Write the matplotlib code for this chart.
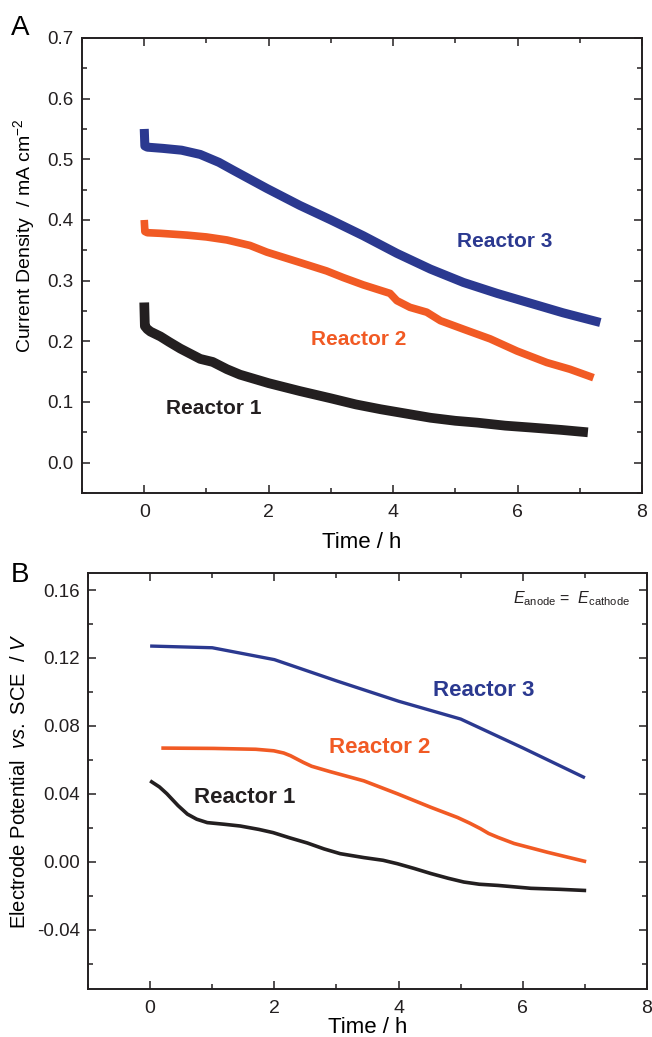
import matplotlib
matplotlib.use("Agg")
import matplotlib.pyplot as plt
from matplotlib.ticker import MultipleLocator, FormatStrFormatter

plt.rcParams['font.family'] = ['Liberation Sans', 'DejaVu Sans']
plt.rcParams['axes.unicode_minus'] = False
plt.rcParams['mathtext.fontset'] = 'custom'
plt.rcParams['mathtext.rm'] = 'Liberation Sans'
plt.rcParams['mathtext.it'] = 'Liberation Sans:italic'

# panel A: current density (mA cm-2) vs time (h)
t_a1 = [0.0, 0.01, 0.05, 0.1, 0.26, 0.4, 0.58, 0.9, 1.1, 1.33, 1.54, 2.0, 2.5, 3.0,
        3.4, 3.8, 4.2, 4.6, 5.0, 5.35, 5.8, 6.2, 6.7, 7.13]
j_a1 = [0.264, 0.225, 0.220, 0.216, 0.208, 0.199, 0.188, 0.171, 0.166, 0.154, 0.145, 0.131,
        0.118, 0.106, 0.096, 0.088, 0.081, 0.074, 0.069, 0.066, 0.061, 0.058, 0.054, 0.050]
t_a2 = [0.0, 0.01, 0.05, 0.26, 0.69, 1.0, 1.33, 1.7, 1.97, 2.5, 2.93, 3.2, 3.52, 3.95,
        4.06, 4.27, 4.54, 4.76, 5.13, 5.56, 5.99, 6.47, 6.84, 7.22]
j_a2 = [0.400, 0.381, 0.379, 0.378, 0.375, 0.372, 0.367, 0.358, 0.347, 0.330, 0.316, 0.305,
        0.293, 0.279, 0.267, 0.256, 0.248, 0.234, 0.220, 0.204, 0.184, 0.165, 0.154, 0.140]
t_a3 = [0.0, 0.01, 0.05, 0.3, 0.6, 0.9, 1.2, 1.43, 1.7, 1.97, 2.5, 3.0, 3.52, 4.06, 4.6, 5.13,
        5.67, 6.2, 6.73, 7.33]
j_a3 = [0.550, 0.522, 0.520, 0.518, 0.515, 0.508, 0.495, 0.482, 0.467, 0.452, 0.424, 0.400,
        0.374, 0.345, 0.319, 0.297, 0.279, 0.263, 0.247, 0.231]

# panel B: electrode potential (V vs SCE) vs time (h)
t_b1 = [0.0, 0.15, 0.27, 0.45, 0.6, 0.75, 0.92, 1.2, 1.45, 1.75, 1.98, 2.25, 2.53, 2.8,
        3.06, 3.44, 3.75, 3.98, 4.25, 4.52, 4.8, 5.05, 5.3, 5.6, 6.13, 6.6, 7.02]
e_b1 = [0.0476, 0.044, 0.040, 0.033, 0.028, 0.025, 0.023, 0.022, 0.021, 0.019, 0.0171,
        0.014, 0.011, 0.0075, 0.0047, 0.0024, 0.0008, -0.0012, -0.004, -0.007, -0.0098,
        -0.012, -0.0133, -0.014, -0.0157, -0.0163, -0.017]
t_b2 = [0.18, 1.02, 1.7, 1.99, 2.15, 2.26, 2.37, 2.47, 2.6, 2.74, 2.9, 3.44, 3.98, 4.52,
        4.95, 5.15, 5.32, 5.45, 5.6, 5.86, 6.4, 7.02]
e_b2 = [0.0669, 0.0667, 0.0662, 0.0653, 0.0640, 0.0624, 0.0603, 0.0584, 0.0562, 0.0547,
        0.053, 0.0476, 0.040, 0.032, 0.026, 0.0226, 0.0194, 0.0166, 0.0143, 0.0107, 0.0055, 0.0]
t_b3 = [0, 1, 2, 3, 4, 5, 6, 7]
e_b3 = [0.127, 0.126, 0.119, 0.1065, 0.0945, 0.084, 0.067, 0.0494]

c_black = '#231F20'
c_orange = '#F15A24'
c_blue = '#2B3990'

fig = plt.figure(figsize=(6.52, 10.37), dpi=100)
axA = fig.add_axes([0.1258, 0.5246, 0.8589, 0.4388])
axB = fig.add_axes([0.135, 0.0463, 0.8574, 0.4011])


def style(ax):
    for s in ax.spines.values():
        s.set_linewidth(1.4)
        s.set_color('#231F20')
    ax.tick_params(which='both', direction='in', top=True, right=True, width=1.1,
                   colors='#231F20')
    ax.tick_params(which='major', length=6)
    ax.tick_params(which='minor', length=3.5)
    ax.tick_params(axis='x', pad=8, labelsize=14)
    ax.tick_params(axis='y', pad=6, labelsize=13.5)
    ax.xaxis.set_major_locator(MultipleLocator(2))
    ax.xaxis.set_minor_locator(MultipleLocator(1))
    ax.set_xlim(-1, 8)


style(axA)
axA.plot(t_a1, j_a1, color=c_black, lw=7, solid_capstyle='butt')
axA.plot(t_a2, j_a2, color=c_orange, lw=5.5, solid_capstyle='butt')
axA.plot(t_a3, j_a3, color=c_blue, lw=6.5, solid_capstyle='butt')
axA.set_ylim(-0.05, 0.7)
axA.yaxis.set_major_locator(MultipleLocator(0.1))
axA.yaxis.set_minor_locator(MultipleLocator(0.05))
axA.yaxis.set_major_formatter(FormatStrFormatter('%.1f'))
axA.set_xlabel('Time / h', fontsize=16, labelpad=8)
axA.set_ylabel('Current Density  / mA cm$^{-2}$', fontsize=14)
axA.yaxis.set_label_coords(-0.08, 0.565)
axA.text(5.8, 0.364, 'Reactor 3', color=c_blue, fontsize=15, fontweight='bold',
         ha='center', va='center')
axA.text(3.44, 0.203, 'Reactor 2', color=c_orange, fontsize=15, fontweight='bold',
         ha='center', va='center')
axA.text(1.12, 0.09, 'Reactor 1', color=c_black, fontsize=15, fontweight='bold',
         ha='center', va='center')

style(axB)
axB.plot(t_b1, e_b1, color=c_black, lw=2.6, solid_capstyle='butt')
axB.plot(t_b2, e_b2, color=c_orange, lw=2.6, solid_capstyle='butt')
axB.plot(t_b3, e_b3, color=c_blue, lw=2.4, solid_capstyle='butt')
axB.set_ylim(-0.075, 0.17)
axB.yaxis.set_major_locator(MultipleLocator(0.04))
axB.yaxis.set_minor_locator(MultipleLocator(0.02))
axB.yaxis.set_major_formatter(FormatStrFormatter('%.2f'))
axB.set_xlabel('Time / h', fontsize=16, labelpad=0)
axB.set_ylabel(r'Electrode Potential  $\it{vs.}$ SCE  / $\it{V}$', fontsize=14.5)
axB.yaxis.set_label_coords(-0.105, 0.5)
axB.text(5.37, 0.101, 'Reactor 3', color=c_blue, fontsize=16, fontweight='bold',
         ha='center', va='center')
axB.text(3.69, 0.067, 'Reactor 2', color=c_orange, fontsize=16, fontweight='bold',
         ha='center', va='center')
axB.text(1.52, 0.0376, 'Reactor 1', color=c_black, fontsize=16, fontweight='bold',
         ha='center', va='center')
axB.text(6.79, 0.155, r'$\it{E}_{\rm anode}$ =  $\it{E}_{\rm cathode}$', fontsize=11.5,
         ha='center', va='center', color=c_black)

fig.text(0.031, 0.973, 'A', fontsize=20, ha='center', va='center')
fig.text(0.031, 0.4455, 'B', fontsize=20, ha='center', va='center')

fig.savefig('out.png', dpi=100)
